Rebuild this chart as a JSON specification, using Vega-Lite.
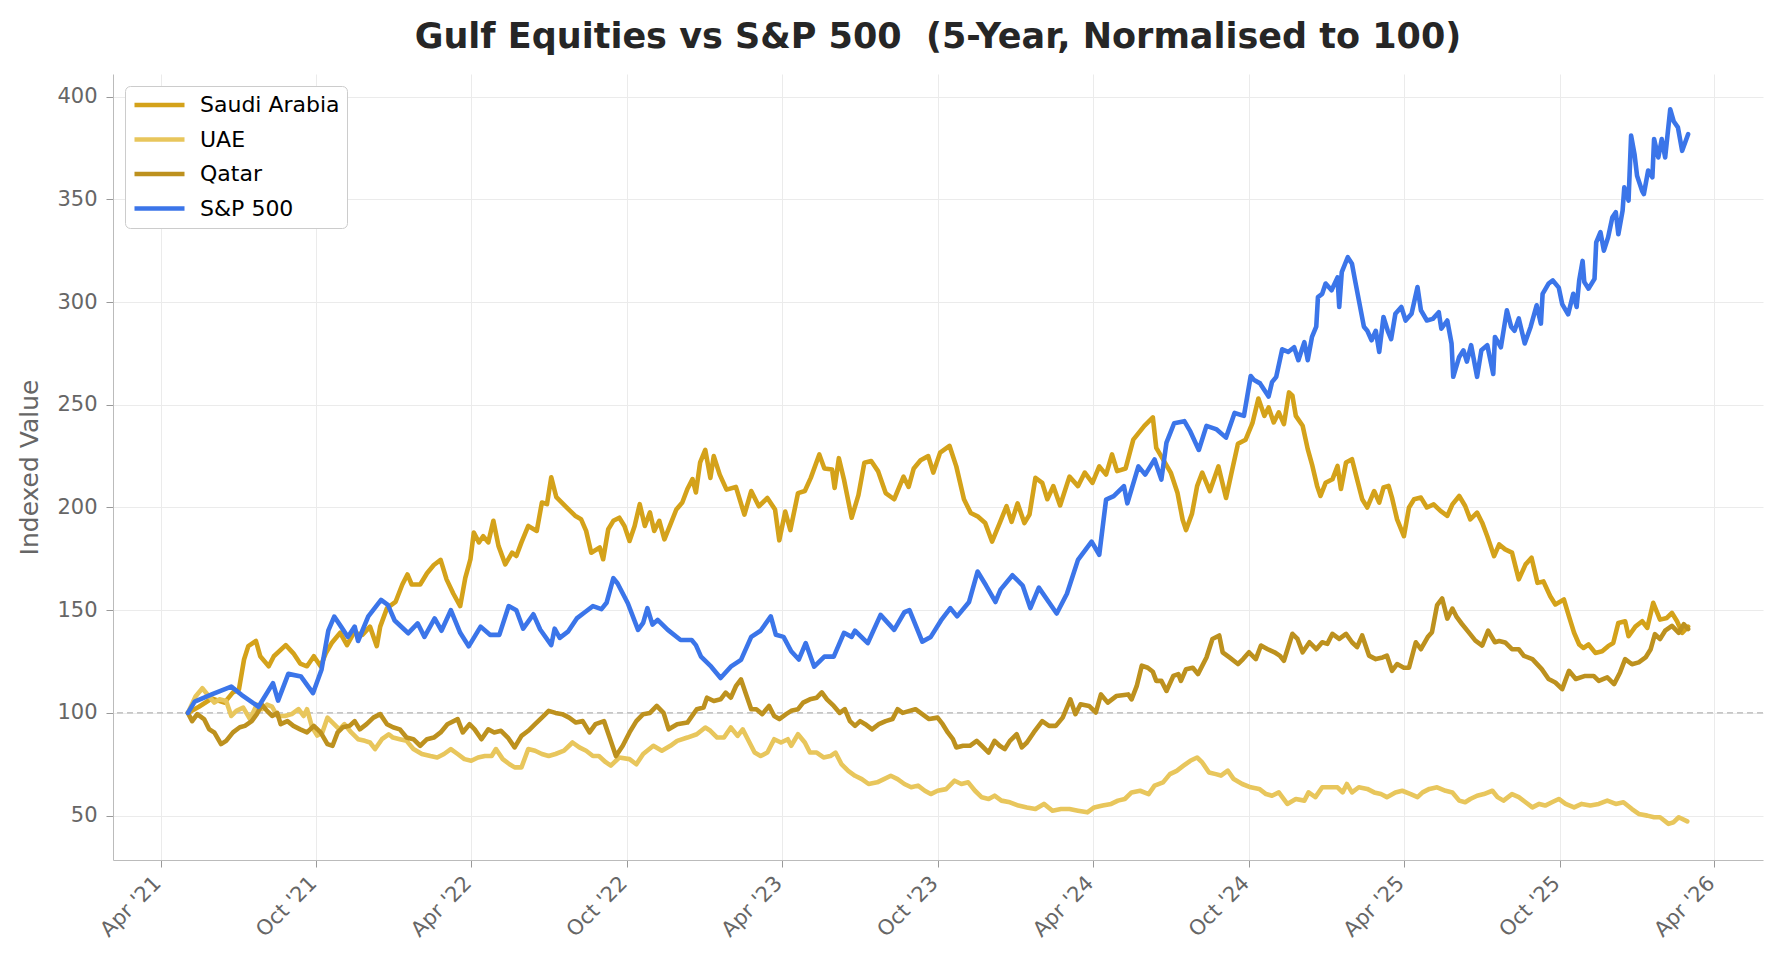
{
"$schema":"https://vega.github.io/schema/vega-lite/v6.json",
"width":1650,"height":786,
"autosize":{"type":"none"},
"padding":{"left":113,"top":74,"right":17,"bottom":111},
"background":"white",
"config":{"view":{"stroke":null},"font":"DejaVu Sans"},
"title":{"text":"Gulf Equities vs S&P 500\u00a0 (5-Year, Normalised to 100)","fontSize":35,"fontWeight":"bold","font":"DejaVu Sans","color":"#262626","baseline":"alphabetic","offset":-9},
"datasets":{
"sa":[{"d":"2021-05-03","v":100},{"d":"2021-05-16","v":103},{"d":"2021-05-31","v":107},{"d":"2021-06-15","v":105},{"d":"2021-06-25","v":110},{"d":"2021-07-02","v":111.4},{"d":"2021-07-08","v":126},{"d":"2021-07-13","v":132.5},{"d":"2021-07-22","v":135},{"d":"2021-07-27","v":127.6},{"d":"2021-08-06","v":122.7},{"d":"2021-08-12","v":127.6},{"d":"2021-08-26","v":133},{"d":"2021-09-04","v":129},{"d":"2021-09-12","v":124},{"d":"2021-09-20","v":122.7},{"d":"2021-09-28","v":127.6},{"d":"2021-10-06","v":122.7},{"d":"2021-10-12","v":129},{"d":"2021-10-19","v":134},{"d":"2021-10-29","v":139},{"d":"2021-11-06","v":133},{"d":"2021-11-14","v":139},{"d":"2021-11-24","v":138},{"d":"2021-12-03","v":142},{"d":"2021-12-11","v":132.5},{"d":"2021-12-15","v":142},{"d":"2021-12-23","v":151},{"d":"2022-01-02","v":154},{"d":"2022-01-10","v":162.5},{"d":"2022-01-16","v":167.4},{"d":"2022-01-21","v":162.5},{"d":"2022-01-31","v":162.5},{"d":"2022-02-08","v":168},{"d":"2022-02-16","v":172},{"d":"2022-02-24","v":174.5},{"d":"2022-03-03","v":165},{"d":"2022-03-11","v":158},{"d":"2022-03-19","v":152},{"d":"2022-03-25","v":165.7},{"d":"2022-03-31","v":174.7},{"d":"2022-04-04","v":187.8},{"d":"2022-04-10","v":183},{"d":"2022-04-15","v":186},{"d":"2022-04-21","v":183},{"d":"2022-04-27","v":193.5},{"d":"2022-05-03","v":181.3},{"d":"2022-05-11","v":172.3},{"d":"2022-05-19","v":178},{"d":"2022-05-24","v":176.4},{"d":"2022-05-30","v":183},{"d":"2022-06-07","v":191},{"d":"2022-06-17","v":188.6},{"d":"2022-06-23","v":202.4},{"d":"2022-06-29","v":201.6},{"d":"2022-07-04","v":214.7},{"d":"2022-07-10","v":205},{"d":"2022-07-22","v":200},{"d":"2022-08-01","v":196},{"d":"2022-08-08","v":194.3},{"d":"2022-08-14","v":188.6},{"d":"2022-08-20","v":178},{"d":"2022-08-30","v":180.5},{"d":"2022-09-03","v":174.8},{"d":"2022-09-09","v":189.4},{"d":"2022-09-15","v":193.5},{"d":"2022-09-22","v":195},{"d":"2022-09-28","v":191},{"d":"2022-10-04","v":183.7},{"d":"2022-10-10","v":191},{"d":"2022-10-16","v":201.6},{"d":"2022-10-22","v":191},{"d":"2022-10-28","v":197.6},{"d":"2022-11-02","v":188.6},{"d":"2022-11-08","v":193.5},{"d":"2022-11-14","v":184.5},{"d":"2022-11-22","v":192.7},{"d":"2022-11-28","v":199},{"d":"2022-12-05","v":202.4},{"d":"2022-12-11","v":209},{"d":"2022-12-17","v":213.8},{"d":"2022-12-21","v":207.3},{"d":"2022-12-26","v":222},{"d":"2023-01-01","v":228},{"d":"2023-01-07","v":214.4},{"d":"2023-01-11","v":225},{"d":"2023-01-18","v":216},{"d":"2023-01-26","v":208.7},{"d":"2023-02-06","v":210},{"d":"2023-02-16","v":196.5},{"d":"2023-02-24","v":208},{"d":"2023-03-05","v":200.6},{"d":"2023-03-15","v":204.6},{"d":"2023-03-24","v":199},{"d":"2023-03-29","v":184},{"d":"2023-04-05","v":198},{"d":"2023-04-11","v":189},{"d":"2023-04-20","v":207},{"d":"2023-04-28","v":208},{"d":"2023-05-05","v":214.4},{"d":"2023-05-15","v":225.8},{"d":"2023-05-21","v":219},{"d":"2023-05-30","v":218.5},{"d":"2023-06-02","v":209.5},{"d":"2023-06-07","v":224},{"d":"2023-06-13","v":213.6},{"d":"2023-06-22","v":195},{"d":"2023-06-30","v":206},{"d":"2023-07-07","v":221.8},{"d":"2023-07-15","v":222.6},{"d":"2023-07-23","v":217.7},{"d":"2023-08-01","v":207},{"d":"2023-08-11","v":204},{"d":"2023-08-22","v":215},{"d":"2023-08-28","v":210},{"d":"2023-09-03","v":219},{"d":"2023-09-11","v":223},{"d":"2023-09-20","v":225},{"d":"2023-09-26","v":217},{"d":"2023-10-04","v":226.7},{"d":"2023-10-15","v":230},{"d":"2023-10-23","v":220},{"d":"2023-11-01","v":204},{"d":"2023-11-09","v":197.3},{"d":"2023-11-17","v":195.7},{"d":"2023-11-26","v":192.4},{"d":"2023-12-04","v":183.4},{"d":"2023-12-13","v":192.4},{"d":"2023-12-21","v":200.6},{"d":"2023-12-27","v":193},{"d":"2024-01-03","v":202},{"d":"2024-01-11","v":192.4},{"d":"2024-01-17","v":196.5},{"d":"2024-01-24","v":214.4},{"d":"2024-02-01","v":212},{"d":"2024-02-07","v":204},{"d":"2024-02-14","v":210.4},{"d":"2024-02-22","v":201},{"d":"2024-03-04","v":215},{"d":"2024-03-14","v":210.4},{"d":"2024-03-22","v":217},{"d":"2024-03-31","v":212},{"d":"2024-04-08","v":220},{"d":"2024-04-16","v":216},{"d":"2024-04-23","v":225.8},{"d":"2024-04-29","v":217.7},{"d":"2024-05-09","v":219},{"d":"2024-05-18","v":233},{"d":"2024-05-31","v":239.7},{"d":"2024-06-10","v":243.8},{"d":"2024-06-14","v":229},{"d":"2024-06-22","v":223.4},{"d":"2024-07-01","v":217},{"d":"2024-07-09","v":207},{"d":"2024-07-15","v":194},{"d":"2024-07-19","v":189},{"d":"2024-07-26","v":197},{"d":"2024-08-01","v":210.4},{"d":"2024-08-07","v":217},{"d":"2024-08-16","v":208},{"d":"2024-08-26","v":220},{"d":"2024-09-04","v":204.6},{"d":"2024-09-10","v":216},{"d":"2024-09-18","v":231},{"d":"2024-09-27","v":233},{"d":"2024-10-05","v":241},{"d":"2024-10-12","v":253},{"d":"2024-10-19","v":244.6},{"d":"2024-10-24","v":248.7},{"d":"2024-10-30","v":241.4},{"d":"2024-11-05","v":246.3},{"d":"2024-11-11","v":240.6},{"d":"2024-11-17","v":256},{"d":"2024-11-21","v":254.4},{"d":"2024-11-25","v":244.6},{"d":"2024-12-03","v":239.8},{"d":"2024-12-09","v":228.4},{"d":"2024-12-14","v":221},{"d":"2024-12-20","v":210.5},{"d":"2024-12-24","v":205.6},{"d":"2024-12-30","v":212},{"d":"2025-01-07","v":213.7},{"d":"2025-01-13","v":220.2},{"d":"2025-01-17","v":209},{"d":"2025-01-23","v":221.9},{"d":"2025-01-30","v":223.5},{"d":"2025-02-05","v":213.7},{"d":"2025-02-11","v":204},{"d":"2025-02-17","v":200},{"d":"2025-02-25","v":208},{"d":"2025-03-03","v":202.4},{"d":"2025-03-08","v":209.7},{"d":"2025-03-14","v":210.5},{"d":"2025-03-18","v":204.8},{"d":"2025-03-24","v":194.2},{"d":"2025-04-01","v":186},{"d":"2025-04-07","v":200},{"d":"2025-04-13","v":204},{"d":"2025-04-21","v":204.8},{"d":"2025-04-28","v":200},{"d":"2025-05-06","v":201.5},{"d":"2025-05-14","v":198.3},{"d":"2025-05-22","v":195.9},{"d":"2025-05-28","v":201.5},{"d":"2025-06-05","v":205.6},{"d":"2025-06-12","v":200.7},{"d":"2025-06-18","v":194.2},{"d":"2025-06-26","v":197.5},{"d":"2025-07-02","v":192.6},{"d":"2025-07-08","v":186},{"d":"2025-07-16","v":176.3},{"d":"2025-07-22","v":182},{"d":"2025-07-29","v":179.6},{"d":"2025-08-06","v":178},{"d":"2025-08-14","v":165},{"d":"2025-08-22","v":172.3},{"d":"2025-08-29","v":175.5},{"d":"2025-09-05","v":163.3},{"d":"2025-09-12","v":164},{"d":"2025-09-20","v":156.8},{"d":"2025-09-26","v":152.8},{"d":"2025-10-06","v":155.2},{"d":"2025-10-12","v":147},{"d":"2025-10-18","v":139},{"d":"2025-10-24","v":133.3},{"d":"2025-10-29","v":131.6},{"d":"2025-11-04","v":133.3},{"d":"2025-11-12","v":129.2},{"d":"2025-11-20","v":130},{"d":"2025-11-27","v":132.5},{"d":"2025-12-03","v":134},{"d":"2025-12-09","v":143.8},{"d":"2025-12-17","v":144.6},{"d":"2025-12-21","v":137.3},{"d":"2025-12-29","v":142},{"d":"2026-01-06","v":144.6},{"d":"2026-01-12","v":141.4},{"d":"2026-01-19","v":153.6},{"d":"2026-01-27","v":145.4},{"d":"2026-02-04","v":146.2},{"d":"2026-02-10","v":148.7},{"d":"2026-02-16","v":144.6},{"d":"2026-02-22","v":139},{"d":"2026-03-01","v":142}],
"ua":[{"d":"2021-05-03","v":100},{"d":"2021-05-12","v":108},{"d":"2021-05-20","v":112},{"d":"2021-05-26","v":109},{"d":"2021-06-03","v":105},{"d":"2021-06-09","v":106.6},{"d":"2021-06-17","v":105.8},{"d":"2021-06-23","v":98.5},{"d":"2021-06-29","v":101},{"d":"2021-07-07","v":102.6},{"d":"2021-07-15","v":97},{"d":"2021-07-23","v":104},{"d":"2021-07-29","v":101.8},{"d":"2021-08-04","v":104},{"d":"2021-08-10","v":103},{"d":"2021-08-16","v":98.5},{"d":"2021-08-25","v":98.5},{"d":"2021-09-02","v":99.4},{"d":"2021-09-10","v":101.8},{"d":"2021-09-16","v":98.5},{"d":"2021-09-20","v":101.8},{"d":"2021-09-26","v":93},{"d":"2021-10-02","v":89},{"d":"2021-10-08","v":90.5},{"d":"2021-10-14","v":97.7},{"d":"2021-10-20","v":95.3},{"d":"2021-10-28","v":92},{"d":"2021-11-03","v":94.5},{"d":"2021-11-11","v":90.5},{"d":"2021-11-19","v":87.2},{"d":"2021-11-27","v":86.4},{"d":"2021-12-03","v":85.6},{"d":"2021-12-09","v":82.4},{"d":"2021-12-17","v":87.2},{"d":"2021-12-25","v":89.6},{"d":"2021-12-30","v":88},{"d":"2022-01-07","v":87.2},{"d":"2022-01-15","v":86.4},{"d":"2022-01-23","v":82.4},{"d":"2022-02-02","v":80},{"d":"2022-02-12","v":79},{"d":"2022-02-20","v":78.3},{"d":"2022-02-28","v":80},{"d":"2022-03-08","v":82.4},{"d":"2022-03-16","v":80},{"d":"2022-03-24","v":77.5},{"d":"2022-04-01","v":76.7},{"d":"2022-04-09","v":78.3},{"d":"2022-04-17","v":79},{"d":"2022-04-25","v":79},{"d":"2022-04-30","v":82.4},{"d":"2022-05-08","v":77.5},{"d":"2022-05-16","v":75},{"d":"2022-05-22","v":73.5},{"d":"2022-05-30","v":73.5},{"d":"2022-06-07","v":82.4},{"d":"2022-06-15","v":81.6},{"d":"2022-06-23","v":80},{"d":"2022-07-01","v":79},{"d":"2022-07-09","v":80},{"d":"2022-07-19","v":81.6},{"d":"2022-07-29","v":85.6},{"d":"2022-08-06","v":83.2},{"d":"2022-08-14","v":81.6},{"d":"2022-08-22","v":79},{"d":"2022-08-29","v":79},{"d":"2022-09-06","v":76},{"d":"2022-09-12","v":74.3},{"d":"2022-09-22","v":78.3},{"d":"2022-10-04","v":77.5},{"d":"2022-10-12","v":75},{"d":"2022-10-20","v":80},{"d":"2022-11-01","v":84},{"d":"2022-11-11","v":81.6},{"d":"2022-11-21","v":84},{"d":"2022-11-29","v":86.4},{"d":"2022-12-11","v":88},{"d":"2022-12-22","v":89.6},{"d":"2023-01-01","v":92.9},{"d":"2023-01-07","v":91.3},{"d":"2023-01-15","v":88},{"d":"2023-01-23","v":88},{"d":"2023-01-31","v":92.9},{"d":"2023-02-08","v":88.8},{"d":"2023-02-14","v":92},{"d":"2023-02-20","v":87.2},{"d":"2023-02-28","v":80.7},{"d":"2023-03-07","v":79},{"d":"2023-03-15","v":80.7},{"d":"2023-03-23","v":87.2},{"d":"2023-03-31","v":85.6},{"d":"2023-04-08","v":87.2},{"d":"2023-04-12","v":84},{"d":"2023-04-20","v":89.6},{"d":"2023-04-28","v":85.6},{"d":"2023-05-04","v":80.7},{"d":"2023-05-12","v":80.7},{"d":"2023-05-20","v":78.3},{"d":"2023-05-28","v":79},{"d":"2023-06-03","v":80.7},{"d":"2023-06-10","v":75.1},{"d":"2023-06-18","v":71.8},{"d":"2023-06-26","v":69.4},{"d":"2023-07-04","v":67.8},{"d":"2023-07-12","v":65.4},{"d":"2023-07-22","v":66.2},{"d":"2023-07-30","v":67.8},{"d":"2023-08-07","v":69.4},{"d":"2023-08-15","v":67.8},{"d":"2023-08-23","v":65.4},{"d":"2023-08-31","v":63.8},{"d":"2023-09-08","v":64.6},{"d":"2023-09-16","v":62.1},{"d":"2023-09-23","v":60.5},{"d":"2023-10-01","v":62.1},{"d":"2023-10-11","v":62.9},{"d":"2023-10-21","v":67},{"d":"2023-10-29","v":65.4},{"d":"2023-11-06","v":66.2},{"d":"2023-11-14","v":62.1},{"d":"2023-11-22","v":58.9},{"d":"2023-11-30","v":58.1},{"d":"2023-12-07","v":59.7},{"d":"2023-12-15","v":57.3},{"d":"2023-12-25","v":56.5},{"d":"2024-01-04","v":54.9},{"d":"2024-01-14","v":54},{"d":"2024-01-24","v":53.2},{"d":"2024-02-03","v":55.7},{"d":"2024-02-13","v":52.4},{"d":"2024-02-23","v":53.2},{"d":"2024-03-04","v":53.2},{"d":"2024-03-14","v":52.4},{"d":"2024-03-25","v":51.6},{"d":"2024-04-02","v":54},{"d":"2024-04-12","v":54.9},{"d":"2024-04-22","v":55.7},{"d":"2024-04-30","v":57.3},{"d":"2024-05-08","v":58.1},{"d":"2024-05-16","v":61.3},{"d":"2024-05-26","v":62.1},{"d":"2024-06-05","v":60.5},{"d":"2024-06-12","v":64.6},{"d":"2024-06-22","v":66.2},{"d":"2024-06-30","v":70.2},{"d":"2024-07-08","v":71.8},{"d":"2024-07-16","v":74.3},{"d":"2024-07-24","v":76.7},{"d":"2024-08-01","v":78.3},{"d":"2024-08-07","v":75.9},{"d":"2024-08-15","v":71},{"d":"2024-08-23","v":70.2},{"d":"2024-08-29","v":69.5},{"d":"2024-09-06","v":71.9},{"d":"2024-09-13","v":67.8},{"d":"2024-09-23","v":65.4},{"d":"2024-10-03","v":63.8},{"d":"2024-10-13","v":63},{"d":"2024-10-21","v":60.5},{"d":"2024-10-28","v":59.7},{"d":"2024-11-05","v":61.3},{"d":"2024-11-15","v":55.7},{"d":"2024-11-25","v":58.1},{"d":"2024-12-05","v":57.3},{"d":"2024-12-10","v":61.3},{"d":"2024-12-18","v":59},{"d":"2024-12-26","v":63.8},{"d":"2025-01-05","v":63.8},{"d":"2025-01-13","v":63.8},{"d":"2025-01-19","v":61.3},{"d":"2025-01-24","v":65.4},{"d":"2025-01-30","v":61.3},{"d":"2025-02-07","v":63.8},{"d":"2025-02-17","v":63},{"d":"2025-02-25","v":61.3},{"d":"2025-03-05","v":60.5},{"d":"2025-03-12","v":59},{"d":"2025-03-22","v":61.3},{"d":"2025-03-30","v":62.1},{"d":"2025-04-09","v":60.5},{"d":"2025-04-17","v":59},{"d":"2025-04-23","v":61.3},{"d":"2025-05-01","v":63},{"d":"2025-05-10","v":63.8},{"d":"2025-05-20","v":62.1},{"d":"2025-05-28","v":61.3},{"d":"2025-06-05","v":57.3},{"d":"2025-06-12","v":56.5},{"d":"2025-06-18","v":58.1},{"d":"2025-06-26","v":59.7},{"d":"2025-07-04","v":60.5},{"d":"2025-07-14","v":62.1},{"d":"2025-07-20","v":59},{"d":"2025-07-27","v":57.3},{"d":"2025-08-06","v":60.5},{"d":"2025-08-14","v":59},{"d":"2025-08-22","v":56.5},{"d":"2025-08-30","v":54},{"d":"2025-09-07","v":55.7},{"d":"2025-09-14","v":54.9},{"d":"2025-09-22","v":56.5},{"d":"2025-09-30","v":58.1},{"d":"2025-10-08","v":55.7},{"d":"2025-10-18","v":54},{"d":"2025-10-27","v":55.7},{"d":"2025-11-06","v":54.9},{"d":"2025-11-16","v":55.7},{"d":"2025-11-26","v":57.3},{"d":"2025-12-06","v":55.7},{"d":"2025-12-15","v":56.5},{"d":"2025-12-25","v":53.2},{"d":"2026-01-02","v":50.8},{"d":"2026-01-12","v":50},{"d":"2026-01-20","v":49.2},{"d":"2026-01-27","v":49.2},{"d":"2026-02-06","v":46},{"d":"2026-02-12","v":46.8},{"d":"2026-02-18","v":49.2},{"d":"2026-02-28","v":47.2}],
"qa":[{"d":"2021-05-03","v":100},{"d":"2021-05-08","v":96},{"d":"2021-05-14","v":99.4},{"d":"2021-05-22","v":97},{"d":"2021-05-28","v":92},{"d":"2021-06-03","v":90.5},{"d":"2021-06-11","v":84.8},{"d":"2021-06-17","v":86.4},{"d":"2021-06-25","v":90.5},{"d":"2021-07-03","v":93},{"d":"2021-07-09","v":93.7},{"d":"2021-07-17","v":96},{"d":"2021-07-23","v":99.4},{"d":"2021-07-29","v":104},{"d":"2021-08-04","v":101},{"d":"2021-08-10","v":98.5},{"d":"2021-08-16","v":100},{"d":"2021-08-20","v":94.5},{"d":"2021-08-28","v":96},{"d":"2021-09-04","v":93.7},{"d":"2021-09-12","v":92},{"d":"2021-09-20","v":90.5},{"d":"2021-09-28","v":93.7},{"d":"2021-10-06","v":90.5},{"d":"2021-10-14","v":84.8},{"d":"2021-10-20","v":84},{"d":"2021-10-26","v":90.5},{"d":"2021-11-01","v":93},{"d":"2021-11-09","v":93.7},{"d":"2021-11-15","v":96},{"d":"2021-11-21","v":92},{"d":"2021-11-29","v":94.5},{"d":"2021-12-07","v":97.7},{"d":"2021-12-15","v":99.4},{"d":"2021-12-23","v":94.5},{"d":"2021-12-30","v":93},{"d":"2022-01-07","v":92},{"d":"2022-01-15","v":88},{"d":"2022-01-23","v":87.2},{"d":"2022-01-31","v":84},{"d":"2022-02-08","v":87.2},{"d":"2022-02-16","v":88},{"d":"2022-02-24","v":90.5},{"d":"2022-03-04","v":94.5},{"d":"2022-03-16","v":97},{"d":"2022-03-22","v":90.5},{"d":"2022-03-30","v":94.5},{"d":"2022-04-05","v":92},{"d":"2022-04-13","v":87.2},{"d":"2022-04-21","v":92},{"d":"2022-04-28","v":90.5},{"d":"2022-05-06","v":91.3},{"d":"2022-05-14","v":88},{"d":"2022-05-22","v":83.2},{"d":"2022-05-30","v":88.8},{"d":"2022-06-07","v":91.3},{"d":"2022-06-15","v":94.5},{"d":"2022-06-23","v":97.7},{"d":"2022-07-01","v":101},{"d":"2022-07-09","v":100},{"d":"2022-07-17","v":99.4},{"d":"2022-07-25","v":97.7},{"d":"2022-08-02","v":95.3},{"d":"2022-08-10","v":96},{"d":"2022-08-18","v":90.5},{"d":"2022-08-25","v":94.5},{"d":"2022-09-04","v":96},{"d":"2022-09-10","v":88.8},{"d":"2022-09-18","v":79},{"d":"2022-09-26","v":84},{"d":"2022-10-04","v":90.5},{"d":"2022-10-12","v":96},{"d":"2022-10-20","v":99.4},{"d":"2022-10-28","v":100},{"d":"2022-11-05","v":103.4},{"d":"2022-11-13","v":100},{"d":"2022-11-19","v":92},{"d":"2022-11-29","v":94.5},{"d":"2022-12-11","v":95.3},{"d":"2022-12-22","v":101.8},{"d":"2022-12-30","v":102.6},{"d":"2023-01-03","v":107.4},{"d":"2023-01-11","v":105.8},{"d":"2023-01-19","v":106.6},{"d":"2023-01-25","v":109.9},{"d":"2023-01-31","v":107.4},{"d":"2023-02-06","v":113},{"d":"2023-02-12","v":116.3},{"d":"2023-02-18","v":109},{"d":"2023-02-24","v":101.8},{"d":"2023-03-02","v":101.8},{"d":"2023-03-09","v":99.4},{"d":"2023-03-17","v":103.4},{"d":"2023-03-23","v":98.5},{"d":"2023-03-29","v":97},{"d":"2023-04-06","v":99.4},{"d":"2023-04-12","v":101},{"d":"2023-04-20","v":101.8},{"d":"2023-04-26","v":105},{"d":"2023-05-04","v":106.6},{"d":"2023-05-12","v":107.4},{"d":"2023-05-18","v":110},{"d":"2023-05-24","v":106.6},{"d":"2023-06-01","v":103.4},{"d":"2023-06-08","v":100},{"d":"2023-06-14","v":101.8},{"d":"2023-06-20","v":96},{"d":"2023-06-26","v":93.7},{"d":"2023-07-02","v":96},{"d":"2023-07-08","v":94.5},{"d":"2023-07-16","v":92},{"d":"2023-07-24","v":94.5},{"d":"2023-08-01","v":96},{"d":"2023-08-09","v":97},{"d":"2023-08-15","v":101.8},{"d":"2023-08-21","v":100},{"d":"2023-08-29","v":101},{"d":"2023-09-05","v":101.8},{"d":"2023-09-13","v":99.4},{"d":"2023-09-21","v":97},{"d":"2023-10-01","v":97.7},{"d":"2023-10-07","v":94.5},{"d":"2023-10-13","v":90.5},{"d":"2023-10-19","v":87.2},{"d":"2023-10-23","v":83.2},{"d":"2023-10-31","v":84},{"d":"2023-11-08","v":84},{"d":"2023-11-16","v":86.4},{"d":"2023-11-22","v":84},{"d":"2023-11-30","v":80.7},{"d":"2023-12-07","v":86.4},{"d":"2023-12-13","v":84},{"d":"2023-12-19","v":82.4},{"d":"2023-12-25","v":86.4},{"d":"2024-01-02","v":89.6},{"d":"2024-01-08","v":83.2},{"d":"2024-01-14","v":85.6},{"d":"2024-01-22","v":90.5},{"d":"2024-02-01","v":96},{"d":"2024-02-09","v":93.7},{"d":"2024-02-17","v":93.7},{"d":"2024-02-25","v":97.7},{"d":"2024-03-05","v":106.6},{"d":"2024-03-11","v":99.4},{"d":"2024-03-17","v":104.2},{"d":"2024-03-27","v":103.4},{"d":"2024-04-04","v":100.2},{"d":"2024-04-10","v":109},{"d":"2024-04-18","v":105},{"d":"2024-04-28","v":108.2},{"d":"2024-05-12","v":109},{"d":"2024-05-16","v":106.6},{"d":"2024-05-22","v":113},{"d":"2024-05-28","v":123},{"d":"2024-06-04","v":122},{"d":"2024-06-10","v":120},{"d":"2024-06-14","v":115.6},{"d":"2024-06-20","v":115.6},{"d":"2024-06-26","v":110.7},{"d":"2024-07-04","v":118},{"d":"2024-07-10","v":118.9},{"d":"2024-07-13","v":115.6},{"d":"2024-07-19","v":121.3},{"d":"2024-07-27","v":122},{"d":"2024-08-02","v":118.9},{"d":"2024-08-12","v":127},{"d":"2024-08-19","v":136},{"d":"2024-08-27","v":137.7},{"d":"2024-08-31","v":129.5},{"d":"2024-09-08","v":127},{"d":"2024-09-18","v":123.8},{"d":"2024-09-24","v":126.2},{"d":"2024-10-01","v":129.5},{"d":"2024-10-09","v":126.2},{"d":"2024-10-15","v":132.8},{"d":"2024-10-23","v":131},{"d":"2024-10-31","v":129.5},{"d":"2024-11-06","v":127.9},{"d":"2024-11-11","v":125.4},{"d":"2024-11-21","v":138.5},{"d":"2024-11-27","v":136},{"d":"2024-12-03","v":129.5},{"d":"2024-12-11","v":134.4},{"d":"2024-12-19","v":131},{"d":"2024-12-26","v":134.4},{"d":"2025-01-01","v":133.6},{"d":"2025-01-07","v":138.5},{"d":"2025-01-15","v":136},{"d":"2025-01-23","v":138.5},{"d":"2025-01-30","v":134.4},{"d":"2025-02-05","v":132},{"d":"2025-02-11","v":137.7},{"d":"2025-02-19","v":127.9},{"d":"2025-02-27","v":126.2},{"d":"2025-03-07","v":127},{"d":"2025-03-12","v":127.9},{"d":"2025-03-18","v":120.5},{"d":"2025-03-24","v":123.8},{"d":"2025-04-01","v":122},{"d":"2025-04-07","v":122},{"d":"2025-04-15","v":134.4},{"d":"2025-04-21","v":131},{"d":"2025-04-29","v":136.9},{"d":"2025-05-04","v":139.3},{"d":"2025-05-10","v":152.5},{"d":"2025-05-16","v":155.7},{"d":"2025-05-22","v":145.9},{"d":"2025-05-28","v":150.8},{"d":"2025-06-02","v":146.7},{"d":"2025-06-08","v":143.4},{"d":"2025-06-16","v":139.3},{"d":"2025-06-24","v":135.2},{"d":"2025-07-02","v":132.8},{"d":"2025-07-09","v":140},{"d":"2025-07-17","v":134.4},{"d":"2025-07-22","v":135},{"d":"2025-07-29","v":134.3},{"d":"2025-08-06","v":131},{"d":"2025-08-14","v":131},{"d":"2025-08-20","v":127.8},{"d":"2025-08-30","v":126.2},{"d":"2025-09-10","v":121.3},{"d":"2025-09-18","v":116.5},{"d":"2025-09-26","v":114.8},{"d":"2025-10-04","v":111.6},{"d":"2025-10-12","v":120.5},{"d":"2025-10-20","v":116.5},{"d":"2025-10-31","v":118},{"d":"2025-11-10","v":118},{"d":"2025-11-16","v":115.6},{"d":"2025-11-26","v":117.3},{"d":"2025-12-04","v":114},{"d":"2025-12-11","v":119.7},{"d":"2025-12-17","v":126.2},{"d":"2025-12-25","v":123.7},{"d":"2026-01-02","v":124.6},{"d":"2026-01-10","v":127},{"d":"2026-01-16","v":131},{"d":"2026-01-21","v":138.3},{"d":"2026-01-27","v":136},{"d":"2026-02-02","v":140},{"d":"2026-02-10","v":142.4},{"d":"2026-02-18","v":139},{"d":"2026-02-24","v":143.2},{"d":"2026-03-01","v":140.8}],
"sp":[{"d":"2021-05-03","v":100},{"d":"2021-05-11","v":105.5},{"d":"2021-05-31","v":109},{"d":"2021-06-23","v":112.8},{"d":"2021-07-05","v":108.8},{"d":"2021-07-25","v":103},{"d":"2021-08-11","v":114.5},{"d":"2021-08-17","v":106},{"d":"2021-08-29","v":119},{"d":"2021-09-13","v":117.7},{"d":"2021-09-27","v":109.6},{"d":"2021-10-07","v":121},{"d":"2021-10-15","v":140},{"d":"2021-10-22","v":146.9},{"d":"2021-10-30","v":142},{"d":"2021-11-07","v":137},{"d":"2021-11-15","v":142},{"d":"2021-11-19","v":135},{"d":"2021-12-01","v":147},{"d":"2021-12-16","v":155},{"d":"2021-12-24","v":152.6},{"d":"2022-01-01","v":145},{"d":"2022-01-17","v":138.8},{"d":"2022-01-28","v":143.6},{"d":"2022-02-05","v":137},{"d":"2022-02-17","v":146},{"d":"2022-02-25","v":140},{"d":"2022-03-08","v":150},{"d":"2022-03-19","v":139},{"d":"2022-03-29","v":132.4},{"d":"2022-04-12","v":142},{"d":"2022-04-23","v":138},{"d":"2022-05-04","v":138},{"d":"2022-05-15","v":152},{"d":"2022-05-24","v":150},{"d":"2022-06-01","v":141},{"d":"2022-06-13","v":148},{"d":"2022-06-21","v":140.6},{"d":"2022-07-04","v":133},{"d":"2022-07-08","v":141},{"d":"2022-07-14","v":136.5},{"d":"2022-07-24","v":139.7},{"d":"2022-08-03","v":146},{"d":"2022-08-14","v":149.5},{"d":"2022-08-22","v":152},{"d":"2022-09-01","v":150.5},{"d":"2022-09-07","v":153.6},{"d":"2022-09-15","v":165.6},{"d":"2022-09-20","v":163},{"d":"2022-10-02","v":153.4},{"d":"2022-10-14","v":140.4},{"d":"2022-10-20","v":143.8},{"d":"2022-10-25","v":151},{"d":"2022-10-31","v":143},{"d":"2022-11-06","v":145.3},{"d":"2022-11-18","v":140.4},{"d":"2022-12-03","v":135.5},{"d":"2022-12-16","v":135.5},{"d":"2022-12-21","v":133},{"d":"2022-12-27","v":127.4},{"d":"2023-01-08","v":122.5},{"d":"2023-01-19","v":117},{"d":"2023-01-31","v":122.5},{"d":"2023-02-12","v":125.8},{"d":"2023-02-24","v":137},{"d":"2023-03-07","v":140},{"d":"2023-03-19","v":147},{"d":"2023-03-25","v":138},{"d":"2023-04-03","v":137},{"d":"2023-04-12","v":130},{"d":"2023-04-21","v":126},{"d":"2023-04-29","v":134},{"d":"2023-05-09","v":122.5},{"d":"2023-05-21","v":127.4},{"d":"2023-06-01","v":127.4},{"d":"2023-06-13","v":139},{"d":"2023-06-22","v":137},{"d":"2023-06-26","v":140},{"d":"2023-07-11","v":134},{"d":"2023-07-26","v":147.7},{"d":"2023-08-11","v":140.4},{"d":"2023-08-23","v":149},{"d":"2023-08-29","v":150},{"d":"2023-09-13","v":134.7},{"d":"2023-09-23","v":137},{"d":"2023-10-05","v":145},{"d":"2023-10-16","v":151},{"d":"2023-10-24","v":147},{"d":"2023-11-07","v":154},{"d":"2023-11-17","v":168.8},{"d":"2023-11-27","v":162},{"d":"2023-12-08","v":154},{"d":"2023-12-14","v":160},{"d":"2023-12-28","v":167},{"d":"2024-01-09","v":162},{"d":"2024-01-18","v":151},{"d":"2024-01-28","v":161},{"d":"2024-02-18","v":148.4},{"d":"2024-03-01","v":158},{"d":"2024-03-14","v":174.5},{"d":"2024-03-30","v":183.4},{"d":"2024-04-08","v":177},{"d":"2024-04-16","v":203.8},{"d":"2024-04-25","v":205.5},{"d":"2024-05-07","v":210.4},{"d":"2024-05-11","v":202},{"d":"2024-05-24","v":220},{"d":"2024-06-01","v":216},{"d":"2024-06-12","v":223.4},{"d":"2024-06-20","v":213.6},{"d":"2024-06-26","v":231.6},{"d":"2024-07-05","v":241},{"d":"2024-07-17","v":242},{"d":"2024-07-24","v":237},{"d":"2024-08-03","v":228},{"d":"2024-08-12","v":239.7},{"d":"2024-08-24","v":238},{"d":"2024-09-04","v":234},{"d":"2024-09-14","v":246},{"d":"2024-09-25","v":244.6},{"d":"2024-10-03","v":264},{"d":"2024-10-07","v":262},{"d":"2024-10-14","v":260.4},{"d":"2024-10-24","v":254},{"d":"2024-10-28","v":261},{"d":"2024-11-02","v":263.6},{"d":"2024-11-09","v":277},{"d":"2024-11-16","v":275.7},{"d":"2024-11-23","v":278},{"d":"2024-11-28","v":271.7},{"d":"2024-12-05","v":280.5},{"d":"2024-12-09","v":271.7},{"d":"2024-12-14","v":283},{"d":"2024-12-19","v":288},{"d":"2024-12-21","v":302.4},{"d":"2024-12-26","v":304},{"d":"2024-12-30","v":309},{"d":"2025-01-06","v":305.7},{"d":"2025-01-13","v":312},{"d":"2025-01-15","v":297.6},{"d":"2025-01-18","v":314.6},{"d":"2025-01-25","v":321.8},{"d":"2025-01-30","v":318.6},{"d":"2025-02-03","v":309.7},{"d":"2025-02-13","v":288},{"d":"2025-02-17","v":286},{"d":"2025-02-22","v":281.4},{"d":"2025-02-27","v":286},{"d":"2025-03-03","v":275.7},{"d":"2025-03-08","v":292.7},{"d":"2025-03-13","v":286},{"d":"2025-03-17","v":282},{"d":"2025-03-22","v":294.3},{"d":"2025-03-29","v":297.6},{"d":"2025-04-03","v":291},{"d":"2025-04-10","v":294.3},{"d":"2025-04-17","v":307.3},{"d":"2025-04-21","v":296},{"d":"2025-04-28","v":291},{"d":"2025-05-05","v":291.8},{"d":"2025-05-12","v":295},{"d":"2025-05-15","v":287},{"d":"2025-05-22","v":291},{"d":"2025-05-27","v":279.8},{"d":"2025-05-29","v":263.6},{"d":"2025-06-05","v":273.3},{"d":"2025-06-10","v":276.5},{"d":"2025-06-14","v":271},{"d":"2025-06-19","v":279},{"d":"2025-06-26","v":263.6},{"d":"2025-07-01","v":276.5},{"d":"2025-07-08","v":279},{"d":"2025-07-15","v":265},{"d":"2025-07-17","v":283},{"d":"2025-07-24","v":278},{"d":"2025-07-31","v":296},{"d":"2025-08-05","v":288},{"d":"2025-08-09","v":286},{"d":"2025-08-14","v":292},{"d":"2025-08-21","v":279.8},{"d":"2025-08-28","v":288},{"d":"2025-09-04","v":298.4},{"d":"2025-09-09","v":289.5},{"d":"2025-09-11","v":304},{"d":"2025-09-18","v":309},{"d":"2025-09-23","v":310.5},{"d":"2025-09-30","v":307},{"d":"2025-10-04","v":299},{"d":"2025-10-11","v":294},{"d":"2025-10-17","v":304},{"d":"2025-10-21","v":297.6},{"d":"2025-10-24","v":310.5},{"d":"2025-10-28","v":320},{"d":"2025-10-30","v":309.7},{"d":"2025-11-04","v":306.5},{"d":"2025-11-11","v":311.3},{"d":"2025-11-13","v":329},{"d":"2025-11-18","v":334},{"d":"2025-11-22","v":325},{"d":"2025-11-27","v":331.5},{"d":"2025-12-02","v":341.3},{"d":"2025-12-06","v":343.7},{"d":"2025-12-09","v":333},{"d":"2025-12-14","v":344.5},{"d":"2025-12-16","v":355.8},{"d":"2025-12-21","v":349.4},{"d":"2025-12-24","v":381},{"d":"2025-12-28","v":372},{"d":"2025-12-31","v":361.5},{"d":"2026-01-06","v":354},{"d":"2026-01-08","v":352.6},{"d":"2026-01-13","v":364},{"d":"2026-01-18","v":360.7},{"d":"2026-01-20","v":379.3},{"d":"2026-01-25","v":370.4},{"d":"2026-01-29","v":379.3},{"d":"2026-02-02","v":370.4},{"d":"2026-02-08","v":393.8},{"d":"2026-02-12","v":388},{"d":"2026-02-17","v":385},{"d":"2026-02-22","v":373.6},{"d":"2026-03-01","v":381.7}]
},
"layer":[
{"data":{"values":[{"y":100}]},"mark":{"type":"rule","color":"#b5b5b5","strokeDash":[6,4],"strokeWidth":1.3},"encoding":{"y":{"field":"y","type":"quantitative","scale":{"domain":[28.4,411],"nice":false,"zero":false}}}},
{"data":{"name":"sa"},"mark":{"type":"line","strokeWidth":4.6,"strokeJoin":"round","strokeCap":"round"},
"encoding":{
"x":{"field":"d","type":"temporal","scale":{"type":"utc","domain":[{"year":2021,"month":2,"date":4,"utc":true},{"year":2026,"month":5,"date":28,"utc":true}]},
"axis":{"title":null,"values":[{"year":2021,"month":4,"date":1,"utc":true},{"year":2021,"month":10,"date":1,"utc":true},{"year":2022,"month":4,"date":1,"utc":true},{"year":2022,"month":10,"date":1,"utc":true},{"year":2023,"month":4,"date":1,"utc":true},{"year":2023,"month":10,"date":1,"utc":true},{"year":2024,"month":4,"date":1,"utc":true},{"year":2024,"month":10,"date":1,"utc":true},{"year":2025,"month":4,"date":1,"utc":true},{"year":2025,"month":10,"date":1,"utc":true},{"year":2026,"month":4,"date":1,"utc":true}],
"labelExpr":"utcFormat(datum.value, \"%b '%y\")","labelAngle":-45,"labelAlign":"right","labelBaseline":"top","labelFontSize":21,"labelColor":"#666666","labelPadding":5,"labelOffset":-11,"tickColor":"#999999","tickSize":7,"domainColor":"#bbbbbb","gridColor":"#ebebeb","grid":true,"labelFlush":false,"labelOverlap":false}},
"y":{"field":"v","type":"quantitative","scale":{"domain":[28.4,411],"nice":false,"zero":false},
"axis":{"title":"Indexed Value","titleFontSize":25,"titleColor":"#666666","titleFontWeight":"normal","titlePadding":14,"values":[50,100,150,200,250,300,350,400],"labelFontSize":21,"labelColor":"#666666","labelPadding":9,"tickColor":"#999999","tickSize":7,"domainColor":"#bbbbbb","gridColor":"#ebebeb","grid":true}},
"color":{"datum":"Saudi Arabia","type":"nominal","scale":{"domain":["Saudi Arabia","UAE","Qatar","S&P 500"],"range":["#D4A21A","#E8C65C","#BD911E","#3B75E9"]},
"legend":{"title":null,"orient":"top-left","offset":12,"fillColor":"white","strokeColor":"#cccccc","cornerRadius":5,"padding":7,"labelFontSize":22,"labelColor":"#000000","symbolType":"stroke","symbolStrokeWidth":4.6,"symbolSize":2500,"clipHeight":24,"rowPadding":10.5,"labelOffset":13}}}},
{"data":{"name":"ua"},"mark":{"type":"line","strokeWidth":4.6,"strokeJoin":"round","strokeCap":"round"},"encoding":{"x":{"field":"d","type":"temporal"},"y":{"field":"v","type":"quantitative"},"color":{"datum":"UAE","type":"nominal"}}},
{"data":{"name":"qa"},"mark":{"type":"line","strokeWidth":4.6,"strokeJoin":"round","strokeCap":"round"},"encoding":{"x":{"field":"d","type":"temporal"},"y":{"field":"v","type":"quantitative"},"color":{"datum":"Qatar","type":"nominal"}}},
{"data":{"name":"sp"},"mark":{"type":"line","strokeWidth":4.6,"strokeJoin":"round","strokeCap":"round"},"encoding":{"x":{"field":"d","type":"temporal"},"y":{"field":"v","type":"quantitative"},"color":{"datum":"S&P 500","type":"nominal"}}}
]
}
